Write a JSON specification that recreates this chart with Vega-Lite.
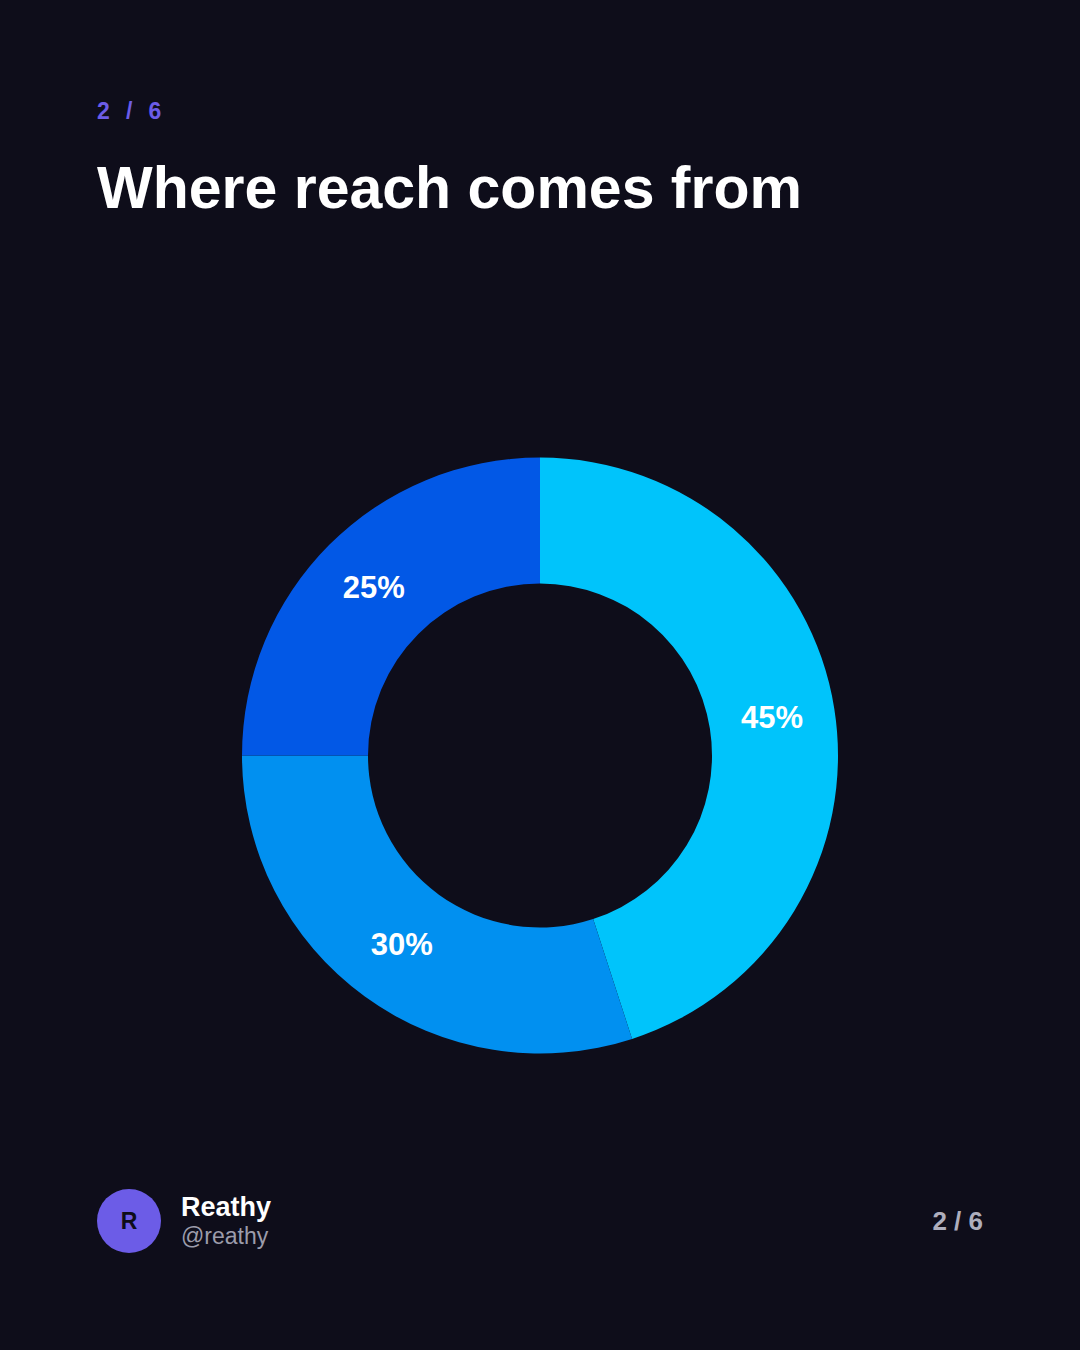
{
  "$schema": "https://vega.github.io/schema/vega-lite/v6.json",
  "width": 1080,
  "height": 1350,
  "autosize": {"type": "fit", "contains": "padding"},
  "padding": {"left": 97, "right": 97, "top": 101, "bottom": 97},
  "background": "#0e0d1a",
  "config": {"view": {"stroke": null}, "font": "Liberation Sans"},
  "title": {
    "text": "2\u2002\u2009/\u2002\u20096",
    "subtitle": "Where reach comes from",
    "anchor": "start",
    "frame": "group",
    "font": "Liberation Sans",
    "fontSize": 23,
    "fontWeight": "bold",
    "color": "#6c5ce7",
    "subtitleFont": "Liberation Sans",
    "subtitleFontSize": 59,
    "subtitleFontWeight": "bold",
    "subtitleColor": "#ffffff",
    "subtitlePadding": 37,
    "offset": 38
  },
  "data": {
    "values": [
      {"segment": "A", "share": 0.45},
      {"segment": "B", "share": 0.30},
      {"segment": "C", "share": 0.25}
    ]
  },
  "layer": [
    {
      "mark": {"type": "arc", "innerRadius": 172, "outerRadius": 298},
      "encoding": {
        "theta": {"field": "share", "type": "quantitative", "stack": true},
        "order": {"field": "segment", "type": "ordinal", "sort": "ascending"},
        "color": {
          "field": "segment",
          "type": "nominal",
          "scale": {"domain": ["A", "B", "C"], "range": ["#00c4fb", "#0190f0", "#0258e6"]},
          "legend": null
        }
      }
    },
    {
      "mark": {"type": "text", "radius": 235, "font": "Liberation Sans", "fontSize": 31, "fontWeight": "bold", "color": "#ffffff", "align": "center", "baseline": "middle"},
      "encoding": {
        "theta": {"field": "share", "type": "quantitative", "stack": true},
        "order": {"field": "segment", "type": "ordinal", "sort": "ascending"},
        "detail": {"field": "segment", "type": "nominal"},
        "text": {"field": "share", "type": "quantitative", "format": ".0%"}
      }
    },
    {
      "data": {"values": [{"name": "Reathy", "handle": "@reathy", "page": "2 / 6", "initial": "R"}]},
      "layer": [
        {
          "mark": {"type": "point", "shape": "circle", "filled": true, "size": 4096, "color": "#6c5ce7", "opacity": 1, "xOffset": 32, "yOffset": -32},
          "encoding": {"x": {"value": 0}, "y": {"value": "height"}}
        },
        {
          "mark": {"type": "text", "font": "Liberation Sans", "fontSize": 23, "fontWeight": "bold", "color": "#0e0d1a", "align": "center", "baseline": "middle", "dx": 32, "dy": -31},
          "encoding": {"x": {"value": 0}, "y": {"value": "height"}, "text": {"field": "initial"}}
        },
        {
          "mark": {"type": "text", "font": "Liberation Sans", "fontSize": 27, "fontWeight": "bold", "color": "#ffffff", "align": "left", "baseline": "alphabetic", "dx": 84, "dy": -37},
          "encoding": {"x": {"value": 0}, "y": {"value": "height"}, "text": {"field": "name"}}
        },
        {
          "mark": {"type": "text", "font": "Liberation Sans", "fontSize": 23, "color": "#9c9cab", "align": "left", "baseline": "alphabetic", "dx": 84, "dy": -9},
          "encoding": {"x": {"value": 0}, "y": {"value": "height"}, "text": {"field": "handle"}}
        },
        {
          "mark": {"type": "text", "font": "Liberation Sans", "fontSize": 26, "fontWeight": "bold", "color": "#aeaebd", "align": "right", "baseline": "alphabetic", "dy": -23},
          "encoding": {"x": {"value": "width"}, "y": {"value": "height"}, "text": {"field": "page"}}
        }
      ]
    }
  ]
}
